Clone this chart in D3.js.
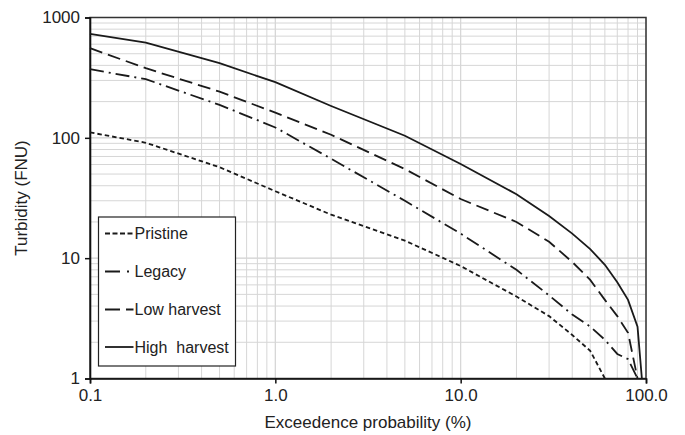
<!DOCTYPE html>
<html><head><meta charset="utf-8">
<script src="https://cdn.jsdelivr.net/npm/d3@7"></script>
<style>body{margin:0;background:#fff}svg{display:block}text{font-family:"Liberation Sans",Arial,sans-serif;fill:#222}</style>
</head><body><svg id="c" width="685" height="435"></svg>
<script>
const probs = [0.1, 0.2, 0.5, 1, 2, 5, 10, 20, 30, 40, 50, 60, 70, 80, 90, 95];
const pristine = [111, 91, 57, 36, 23, 14, 8.6, 4.8, 3.3, 2.3, 1.7, 1.0, null, null, null, null];
const legacy = [372, 307, 188, 122, 67, 30, 16, 8, 4.9, 3.4, 2.7, 2.1, 1.6, 1.45, 1.0, null];
const lowHarvest = [556, 379, 242, 162, 106, 55, 31, 20, 13.7, 9.3, 6.6, 4.5, 3.3, 2.4, 1.0, null];
const highHarvest = [731, 618, 417, 290, 184, 104, 60.7, 34, 22.4, 16, 11.9, 8.8, 6.3, 4.5, 2.7, 1.0];
const seriesNames = ["Pristine", "Legacy", "Low harvest", "High  harvest"];
const xTicks = [0.1, 1, 10, 100];
const xTickLabels = ["0.1", "1.0", "10.0", "100.0"];
const yTicks = [1, 10, 100, 1000];
const yTickLabels = ["1", "10", "100", "1000"];

const svg = d3.select("#c");
const L = 90, R = 646, T = 17.5, B = 378.5;
const x = d3.scaleLog().domain([0.1, 100]).range([L, R]);
const y = d3.scaleLog().domain([1, 1000]).range([B, T]);

// grid
const g = svg.append("g");
const xGrid = [], yGrid = [];
[0.1, 1, 10].forEach(d => { for (let k = 1; k <= 10; k++) xGrid.push(d * k); });
[1, 10, 100].forEach(d => { for (let k = 1; k <= 10; k++) yGrid.push(d * k); });
g.selectAll(".vg").data(xGrid).join("line")
  .attr("x1", d => x(d)).attr("x2", d => x(d)).attr("y1", T).attr("y2", B)
  .attr("stroke", "#d6d6d6").attr("stroke-width", 1);
g.selectAll(".hg").data(yGrid).join("line")
  .attr("y1", d => y(d)).attr("y2", d => y(d)).attr("x1", L).attr("x2", R)
  .attr("stroke", "#d6d6d6").attr("stroke-width", 1);

// frame
svg.append("rect").attr("x", L).attr("y", T).attr("width", R - L).attr("height", B - T)
  .attr("fill", "none").attr("stroke", "#333").attr("stroke-width", 1.5);

// axes
const xAxis = d3.axisBottom(x).tickValues(xTicks).tickSize(5).tickPadding(5)
  .tickFormat((d, i) => xTickLabels[i]);
const gx = svg.append("g").attr("transform", `translate(0,${B})`).call(xAxis);
const yAxis = d3.axisLeft(y).tickValues(yTicks).tickSize(5).tickPadding(5)
  .tickFormat((d, i) => yTickLabels[i]);
const gy = svg.append("g").attr("transform", `translate(${L},0)`).call(yAxis);
[gx, gy].forEach(a => {
  a.select(".domain").attr("stroke", "#111").attr("stroke-width", 1.6);
  a.selectAll(".tick line").attr("stroke", "#111").attr("stroke-width", 1.5);
  a.selectAll(".tick text").attr("font-size", 17).attr("fill", "#222")
    .attr("font-family", '"Liberation Sans",Arial,sans-serif');
});

// titles
svg.append("text").attr("x", 368).attr("y", 428).attr("text-anchor", "middle")
  .attr("font-size", 17).text("Exceedence probability (%)");
svg.append("text").attr("transform", "translate(27,198) rotate(-90)").attr("text-anchor", "middle")
  .attr("font-size", 17).text("Turbidity (FNU)");

// lines
const styles = [
  { data: pristine, dash: "4.5,3" },
  { data: legacy, dash: "14,5,2,5" },
  { data: lowHarvest, dash: "13,6" },
  { data: highHarvest, dash: null }
];
const line = d3.line().defined(d => d[1] != null).x(d => x(d[0])).y(d => y(d[1]));
styles.forEach(s => {
  svg.append("path").datum(probs.map((p, i) => [p, s.data[i]]))
    .attr("d", line).attr("fill", "none").attr("stroke", "#1a1a1a")
    .attr("stroke-width", 1.8).attr("stroke-dasharray", s.dash);
});

// legend
const lg = svg.append("g");
lg.append("rect").attr("x", 98.5).attr("y", 217).attr("width", 137).attr("height", 149)
  .attr("fill", "#fff").attr("stroke", "#222").attr("stroke-width", 1.2);
const legDash = ["5,2.5", "15,7,2,20", "15,6,8", null];
const legY = [233.5, 271.5, 309.5, 347];
seriesNames.forEach((n, i) => {
  lg.append("line").attr("x1", 105).attr("x2", 133.5).attr("y1", legY[i]).attr("y2", legY[i])
    .attr("stroke", "#1a1a1a").attr("stroke-width", 1.8).attr("stroke-dasharray", legDash[i]);
  lg.append("text").attr("x", 134.5).attr("y", legY[i] + 5.7).attr("font-size", 16)
    .style("white-space", "pre").text(n);
});
</script></body></html>
